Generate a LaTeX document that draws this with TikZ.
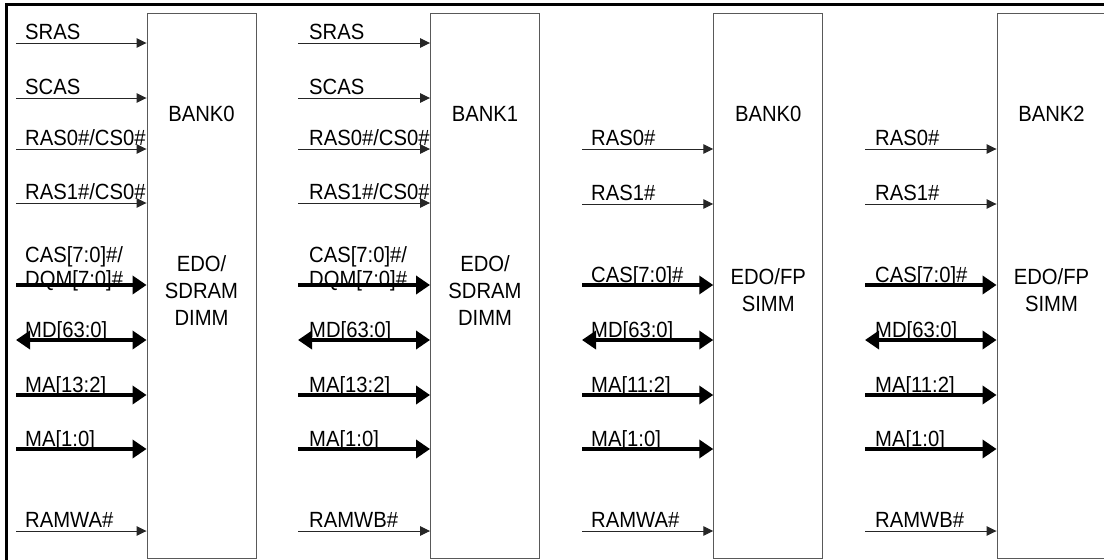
\documentclass[tikz,border=0pt]{standalone}
\usepackage{fontspec}
\setmainfont{Liberation Sans}[FakeStretch=0.92]
\usetikzlibrary{arrows.meta}

\newcommand\sigfont{\fontsize{22}{24}\selectfont}
\newcommand\bankfont{\fontsize{22}{27}\selectfont}

\begin{document}
\begin{tikzpicture}[x=1pt,y=-1pt,
  bank/.style={draw=black!65,line width=.9pt,minimum width=109pt,minimum height=544.7pt,inner sep=0pt},
  sigline/.style={black!85,line width=1pt,-{Triangle[length=10pt,width=9.5pt]}},
  busline/.style={line width=4.5pt,-{Triangle[length=14pt,width=18pt]}},
  dbusline/.style={line width=4.5pt,{Triangle[length=14pt,width=18pt]}-{Triangle[length=14pt,width=18pt]}},
  lbl/.style={anchor=base west,inner sep=0pt,font=\sigfont},
  siglbl/.style={lbl,yshift=4pt},
  buslbl/.style={lbl,yshift=2.5pt},
  twolbl/.style={lbl,align=left,yshift=-1.5pt},
  boxtxt/.style={anchor=base,inner sep=0pt,font=\bankfont,align=center}]
  \useasboundingbox (0,0) rectangle (1104,560);
  \draw[line width=3pt] (6.7,561) -- (6.7,4.7) -- (1105,4.7);

  % memory banks
  \node[bank] (dimmA) at (201.5,285.7) {};
  \node[bank] (dimmB) at (485,285.7) {};
  \node[bank] (simmA) at (768.2,285.7) {};
  \node[bank] (simmB) at (1051.5,285.7) {};

  \node[boxtxt] (dimmA-bank) at (dimmA |- 0,121) {BANK0};
  \node[boxtxt] (dimmB-bank) at (dimmB |- 0,121) {BANK1};
  \node[boxtxt] (simmA-bank) at (simmA |- 0,121) {BANK0};
  \node[boxtxt] (simmB-bank) at (simmB |- 0,121) {BANK2};
  \node[boxtxt] (dimmA-type) at (dimmA |- 0,325) {EDO/\\SDRAM\\DIMM};
  \node[boxtxt] (dimmB-type) at (dimmB |- 0,325) {EDO/\\SDRAM\\DIMM};
  \node[boxtxt] (simmA-type) at (simmA |- 0,311) {EDO/FP\\SIMM};
  \node[boxtxt] (simmB-type) at (simmB |- 0,311) {EDO/FP\\SIMM};

  % DIMM signals
  \foreach \bx/\sx/\lx/\we in {dimmA/16/25/RAMWA\#,dimmB/298/309/RAMWB\#}{
    \foreach \y/\n/\lnsty/\lbsty/\txt in {43/1/sigline/siglbl/SRAS,
        98/2/sigline/siglbl/SCAS,
        149/3/sigline/siglbl/{RAS0\#/CS0\#},
        203/4/sigline/siglbl/{RAS1\#/CS0\#},
        285/5/busline/twolbl/{CAS[7:0]\#/\\DQM[7:0]\#},
        340/6/dbusline/buslbl/{MD[63:0]},
        395/7/busline/buslbl/{MA[13:2]},
        449/8/busline/buslbl/{MA[1:0]},
        531/9/sigline/siglbl/{\we}}{
      \coordinate (\bx-\n) at (\sx,\y);
      \draw[\lnsty] (\bx-\n) -- (\bx-\n -| \bx.west);
      \node[\lbsty] (\bx-l\n) at (\lx,\y) {\txt};
    }
  }

  % SIMM signals
  \foreach \bx/\sx/\lx/\we in {simmA/582/591/RAMWA\#,simmB/865/875/RAMWB\#}{
    \foreach \y/\n/\lnsty/\lbsty/\txt in {149/1/sigline/siglbl/RAS0\#,
        204/2/sigline/siglbl/RAS1\#,
        285/3/busline/buslbl/{CAS[7:0]\#},
        340/4/dbusline/buslbl/{MD[63:0]},
        395/5/busline/buslbl/{MA[11:2]},
        449/6/busline/buslbl/{MA[1:0]},
        531/7/sigline/siglbl/{\we}}{
      \coordinate (\bx-\n) at (\sx,\y);
      \draw[\lnsty] (\bx-\n) -- (\bx-\n -| \bx.west);
      \node[\lbsty] (\bx-l\n) at (\lx,\y) {\txt};
    }
  }
\end{tikzpicture}
\end{document}
